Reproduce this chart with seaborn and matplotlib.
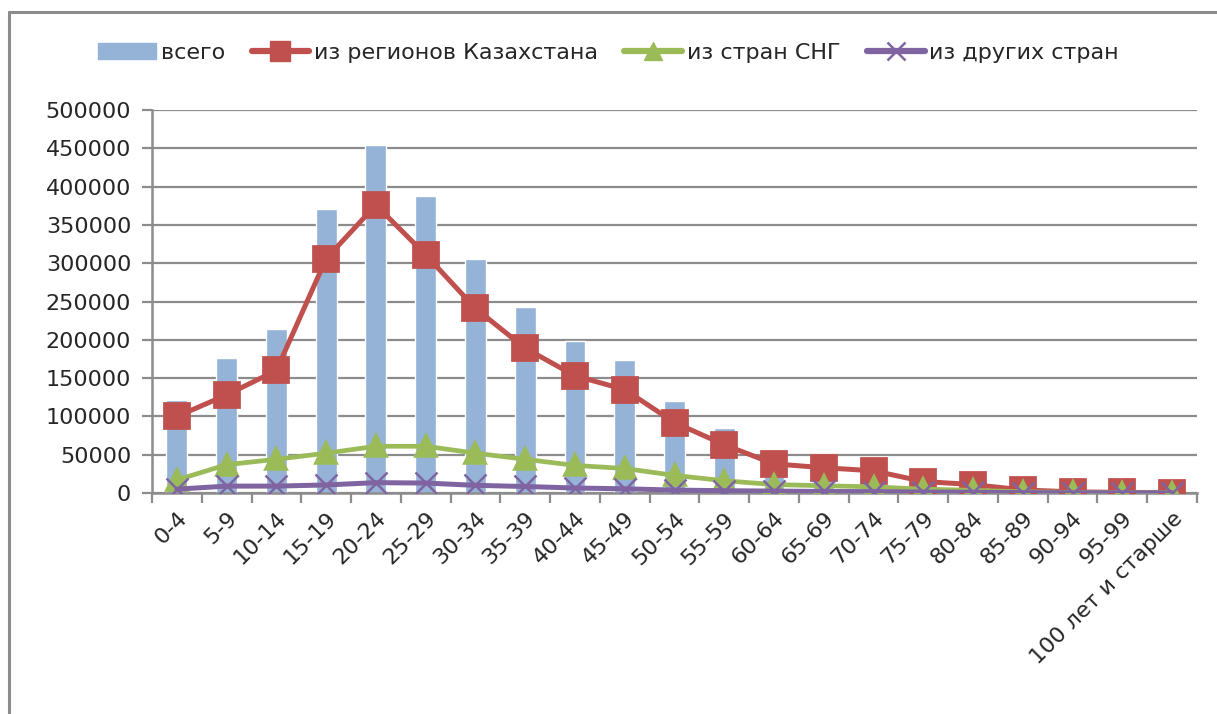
import matplotlib
matplotlib.use("Agg")
import matplotlib.pyplot as plt
from matplotlib.lines import Line2D
from matplotlib.patches import Patch
import seaborn as sns
import pandas as pd
import numpy as np

categories = ["0-4", "5-9", "10-14", "15-19", "20-24", "25-29", "30-34", "35-39",
              "40-44", "45-49", "50-54", "55-59", "60-64", "65-69", "70-74", "75-79",
              "80-84", "85-89", "90-94", "95-99", "100 лет и старше"]
total = [121000, 176000, 214000, 371000, 454000, 388000, 305000, 243000, 198000,
         173000, 120000, 85000, 51000, 44000, 39000, 21000, 16000, 6000, 3000, 1500, 1000]
kazakhstan = [100000, 128000, 160000, 306000, 376000, 311000, 241000, 189000, 153000,
              135000, 92000, 63000, 38000, 33000, 29000, 15000, 11000, 4000, 1500, 800, 500]
cis = [17000, 37000, 44000, 52000, 61000, 61000, 52000, 44000, 36000,
       32000, 23000, 16000, 11000, 9500, 8000, 5000, 3500, 1500, 800, 400, 300]
other = [5000, 9000, 9000, 10500, 13500, 13000, 10000, 8500, 6500,
         5500, 3800, 3000, 2500, 2000, 1800, 1200, 900, 500, 300, 200, 100]
legend_labels = ["всего", "из регионов Казахстана", "из стран СНГ", "из других стран"]

df = pd.DataFrame({"cat": categories, "total": total, "kz": kazakhstan,
                   "cis": cis, "other": other})

c_bar = "#95B3D7"
c_red = "#C0504D"
c_green = "#9BBB59"
c_purple = "#8064A2"
c_grid = "#8C8C8C"

sns.set_theme(style="white")
plt.rcParams["font.family"] = ["DejaVu Sans"]

fig = plt.figure(figsize=(12.17, 7.14), dpi=100)
ax = fig.add_axes([152 / 1217, 1 - 493 / 714, (1197 - 152) / 1217, (493 - 110) / 714])

sns.barplot(data=df, x="cat", y="total", color=c_bar, width=0.42, saturation=1,
            ax=ax, zorder=2)
sns.pointplot(data=df, x="cat", y="kz", color=c_red, markers="s", ax=ax,
              markersize=17, linewidth=3.6, zorder=4)
sns.pointplot(data=df, x="cat", y="cis", color=c_green, markers="^", ax=ax,
              markersize=15, linewidth=3.4, zorder=5)
sns.pointplot(data=df, x="cat", y="other", color=c_purple, markers="x", ax=ax,
              markersize=16, markeredgewidth=1.8, linewidth=3.6, zorder=6)

ax.set_xlim(-0.5, len(categories) - 0.5)
ax.set_ylim(0, 500000)
ax.set_yticks(np.arange(0, 500001, 50000))
ax.set_yticklabels([str(v) for v in range(0, 500001, 50000)], fontsize=16)
ax.yaxis.grid(True, color=c_grid, linewidth=1.6, zorder=0)
ax.set_axisbelow(True)
ax.set_xlabel("")
ax.set_ylabel("")

for s in ["top", "right"]:
    ax.spines[s].set_visible(False)
for s in ["left", "bottom"]:
    ax.spines[s].set_color(c_grid)
    ax.spines[s].set_linewidth(1.8)

ax.tick_params(axis="y", length=7, width=1.6, color=c_grid, pad=8, left=True)
ax.set_xticks(range(len(categories)))
ax.set_xticklabels(categories, rotation=45, ha="right", rotation_mode="anchor",
                   fontsize=16)
ax.tick_params(axis="x", length=0, pad=11)
ax.set_xticks(np.arange(-0.5, len(categories), 1), minor=True)
ax.tick_params(axis="x", which="minor", length=7, width=1.6, color=c_grid, bottom=True)

handles = [
    Patch(facecolor=c_bar, edgecolor=c_bar),
    Line2D([], [], color=c_red, marker="s", markersize=15, linewidth=4.5),
    Line2D([], [], color=c_green, marker="^", markersize=13, linewidth=4.5),
    Line2D([], [], color=c_purple, marker="x", markersize=13, markeredgewidth=1.8, linewidth=4.5),
]
fig.legend(handles, legend_labels, loc="center", bbox_to_anchor=(0.5, 1 - 53 / 714),
           ncol=4, frameon=False, fontsize=16, handlelength=2.6, handletextpad=0.2,
           columnspacing=1.2)

# outer chart border (top and left visible)
fig.add_artist(Line2D([9 / 1217, 9 / 1217], [0, 1 - 12 / 714], color="#8C8C8C",
                      linewidth=2.2, transform=fig.transFigure))
fig.add_artist(Line2D([9 / 1217, 1], [1 - 12 / 714, 1 - 12 / 714], color="#8C8C8C",
                      linewidth=2.2, transform=fig.transFigure))

fig.savefig("out.png", dpi=100, facecolor="white")
